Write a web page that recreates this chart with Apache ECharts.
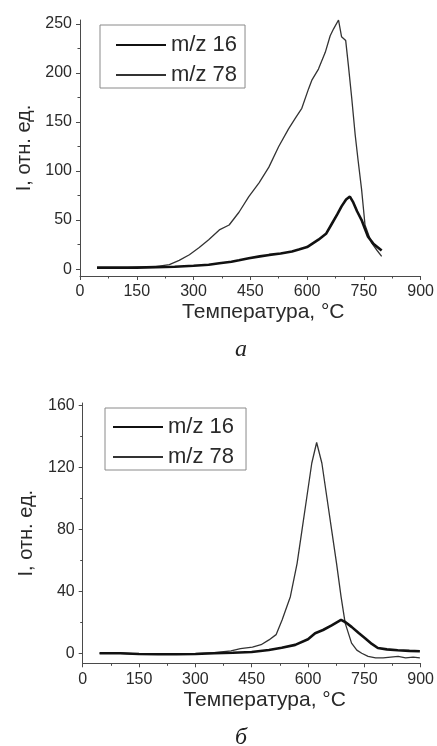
<!DOCTYPE html>
<html>
<head>
<meta charset="utf-8">
<script src="https://cdn.jsdelivr.net/npm/echarts@6/dist/echarts.min.js"></script>
<style>
html,body{margin:0;padding:0;background:#fff;}
#c{width:437px;height:746px;}
</style>
</head>
<body>
<div id="c"></div>
<script>
// ---- data: chart a ----
const seriesNames = ['m/z 16', 'm/z 78'];
const tempA16 = [45, 100, 150, 200, 250, 300, 340, 368, 400, 420, 446, 475, 500, 530, 560, 578, 600, 630, 650, 665, 680, 691, 703, 713, 722, 732, 744, 752, 761, 775, 797];
const valA16  = [1.5, 1.5, 1.5, 2, 2.5, 3.5, 4.5, 6, 7.5, 9, 11, 13, 14.5, 16, 18, 20, 22.5, 30, 36, 46, 56, 64, 71, 74, 68, 59, 50, 42, 33, 26, 19];
const tempA78 = [45, 75, 100, 125, 150, 175, 200, 236, 262, 289, 315, 340, 368, 394, 420, 446, 473, 499, 525, 551, 569, 586, 604, 613, 630, 648, 661, 670, 683, 691, 702, 709, 718, 727, 735, 744, 753, 770, 785, 797];
const valA78  = [1, 1.5, 1.5, 1.5, 2, 2, 2.5, 4.6, 9, 14.7, 22, 30, 40, 45, 58, 74, 88, 104, 125, 143, 154, 164, 184, 193, 204, 221, 238, 245, 254, 237, 233, 208, 174, 137, 110, 81, 45, 27, 19, 13];
// ---- data: chart б ----
const tempB16 = [45, 100, 150, 200, 250, 300, 350, 400, 450, 496, 530, 566, 600, 619, 640, 663, 688, 700, 716, 735, 752, 770, 786, 810, 839, 870, 898];
const valB16  = [0, 0, -0.5, -0.7, -0.7, -0.5, 0, 0.3, 0.8, 2.1, 3.5, 5.4, 9, 12.9, 15, 18, 21.5, 20, 17, 13, 9.7, 6, 3.4, 2.5, 1.9, 1.5, 1.3];
const tempB78 = [45, 100, 150, 200, 250, 300, 350, 395, 420, 452, 475, 496, 515, 531, 553, 571, 584, 597, 610, 623, 637, 650, 663, 676, 688, 699, 716, 730, 743, 760, 780, 800, 820, 840, 860, 880, 898];
const valB78  = [0, 0, -0.5, -0.5, -0.5, -0.3, 0.3, 1.5, 3, 4, 5.5, 8.6, 12, 21.5, 36.5, 58, 79.5, 101, 122.6, 136, 122.6, 101, 79.5, 58, 36.5, 19.4, 6.5, 2, 0, -2, -3, -3, -2.5, -2, -3, -2.5, -3];
// ---- ticks ----
const xTicks = [0, 150, 300, 450, 600, 750, 900];
const yTicksA = [0, 50, 100, 150, 200, 250];
const yMinorA = [25, 75, 125, 175, 225];
const yTicksB = [0, 40, 80, 120, 160];
const yMinorB = [20, 60, 100, 140];
const captions = ['а', 'б'];
const xTitle = 'Температура, °C';
const yTitle = 'I, отн. ед.';

const zip = (t, v) => t.map((x, i) => [x, v[i]]);
const FONT = 'Liberation Sans, Arial, sans-serif';
const TXT = '#2a2a2a';
const AX = '#4a4a4a';

function xAxisCfg(grid) {
  return {
    type: 'value', gridIndex: grid, min: xTicks[0], max: xTicks[xTicks.length - 1], interval: xTicks[1] - xTicks[0],
    axisLine: { show: true, onZero: false, lineStyle: { color: AX, width: 1 } },
    axisTick: { show: true, length: 4, lineStyle: { color: AX } },
    minorTick: { show: true, splitNumber: 2, length: 2.5, lineStyle: { color: AX } },
    splitLine: { show: false },
    axisLabel: { color: TXT, fontSize: 16, fontFamily: FONT, margin: 8 },
    name: xTitle, nameLocation: 'middle', nameGap: 26,
    nameTextStyle: { color: TXT, fontSize: 21, fontFamily: FONT, padding: [0, 0, 0, 26] }
  };
}
function yAxisMain(grid, min, max, ticks) {
  return {
    type: 'value', gridIndex: grid, min: min, max: max, position: 'left',
    axisLine: { show: true, onZero: false, lineStyle: { color: AX, width: 1 } },
    axisTick: { show: true, length: 4, customValues: ticks, lineStyle: { color: AX } },
    splitLine: { show: false },
    axisLabel: { color: TXT, fontSize: 16, fontFamily: FONT, margin: 8, customValues: ticks },
    name: yTitle, nameLocation: 'middle', nameGap: 46, nameRotate: 90,
    nameTextStyle: { color: TXT, fontSize: 20, fontFamily: FONT }
  };
}
function yAxisMinor(grid, min, max, ticks) {
  return {
    type: 'value', gridIndex: grid, min: min, max: max, position: 'left', offset: 0,
    axisLine: { show: false },
    axisTick: { show: true, length: 2.5, customValues: ticks, lineStyle: { color: AX } },
    splitLine: { show: false },
    axisLabel: { show: false, customValues: ticks }
  };
}
function lineSeries(name, xi, yi, data, thick) {
  return {
    name: name, type: 'line', xAxisIndex: xi, yAxisIndex: yi, data: data,
    showSymbol: false, symbol: 'none', smooth: false, clip: false,
    lineStyle: { color: thick ? '#111' : '#333', width: thick ? 2.6 : 1.3 },
    itemStyle: { color: thick ? '#111' : '#333' },
    z: thick ? 3 : 2
  };
}
function legendCfg(left, top, padding) {
  return {
    data: seriesNames, orient: 'vertical', left: left, top: top,
    itemWidth: 50, itemHeight: 14, itemGap: 8,
    borderColor: '#8a8a8a', borderWidth: 1, padding: padding,
    itemStyle: { opacity: 0 },
    textStyle: { color: TXT, fontSize: 22, fontFamily: FONT, lineHeight: 22 },
    selectedMode: false
  };
}

const chart = echarts.init(document.getElementById('c'), null, { renderer: 'canvas' });
chart.setOption({
  animation: false,
  backgroundColor: '#fff',
  grid: [
    { left: 80, top: 20, width: 342.7, height: 256, containLabel: false },
    { left: 82.7, top: 403, width: 340, height: 260.3, containLabel: false }
  ],
  xAxis: [xAxisCfg(0), xAxisCfg(1)],
  yAxis: [
    yAxisMain(0, -7, 254, yTicksA),
    yAxisMinor(0, -7, 254, yMinorA),
    yAxisMain(1, -6.5, 161.5, yTicksB),
    yAxisMinor(1, -6.5, 161.5, yMinorB)
  ],
  legend: [
    legendCfg(100, 25, [9, 8, 2, 15]),
    legendCfg(105, 408, [8, 12, 2, 7])
  ],
  series: [
    lineSeries(seriesNames[1], 0, 0, zip(tempA78, valA78), false),
    lineSeries(seriesNames[0], 0, 0, zip(tempA16, valA16), true),
    lineSeries(seriesNames[1], 1, 2, zip(tempB78, valB78), false),
    lineSeries(seriesNames[0], 1, 2, zip(tempB16, valB16), true)
  ],
  graphic: [
    { type: 'text', left: 235, top: 338, style: { text: captions[0], fill: '#222', font: 'italic 24px "Liberation Serif", "Times New Roman", serif' } },
    { type: 'text', left: 235, top: 726, style: { text: captions[1], fill: '#222', font: 'italic 24px "Liberation Serif", "Times New Roman", serif' } }
  ]
});
</script>
</body>
</html>
